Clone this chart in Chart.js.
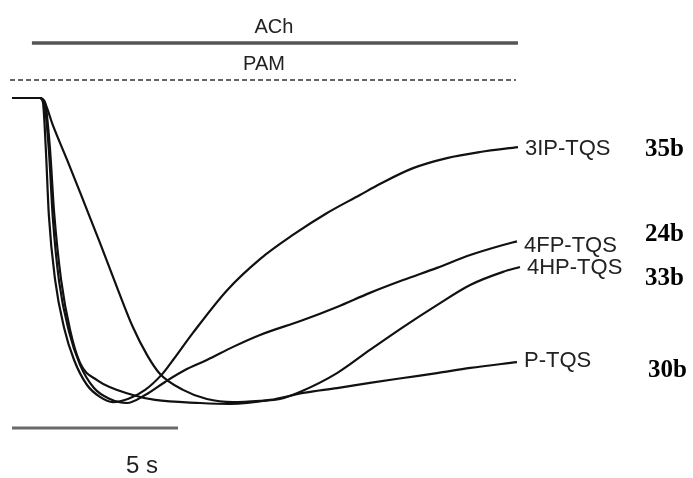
<!DOCTYPE html>
<html lang="en">
<head>
    <meta charset="UTF-8">
    <title>PAM current traces</title>
    <script src="https://cdn.jsdelivr.net/npm/chart.js"></script>
    <style>
        body, html {
            margin: 0;
            padding: 0;
            background: #fff;
        }
        #chart {
            display: block;
        }
    </style>
</head>
<body>
    <canvas id="chart" width="693" height="478"></canvas>

    <script>
        // Traces: time (s) and normalised current (fraction of peak)
        const time3IP = [0, 0.84, 0.93, 1.02, 1.11, 1.30, 1.57, 1.87, 2.26, 2.65, 3.04, 3.49, 4.01, 4.55, 4.85, 5.45, 6.48, 7.47, 8.46, 9.49, 10.48, 11.08, 12.08, 13.10, 14.10, 15.24];
        const curr3IP = [0, 0, -0.013, -0.170, -0.384, -0.597, -0.754, -0.859, -0.941, -0.980, -0.997, -0.987, -0.957, -0.902, -0.859, -0.770, -0.630, -0.528, -0.449, -0.377, -0.318, -0.282, -0.230, -0.197, -0.177, -0.161];

        const time4FP = [0, 0.84, 0.96, 1.11, 1.23, 1.42, 1.72, 2.05, 2.47, 2.95, 3.46, 4.01, 4.61, 5.21, 5.87, 6.66, 7.47, 8.77, 9.79, 10.78, 11.78, 12.80, 13.80, 14.79, 15.21];
        const curr4FP = [0, 0, -0.013, -0.170, -0.393, -0.603, -0.767, -0.875, -0.951, -0.987, -1.000, -0.974, -0.931, -0.892, -0.859, -0.816, -0.777, -0.728, -0.685, -0.639, -0.597, -0.557, -0.515, -0.482, -0.470];

        const time4HP = [0, 0.84, 0.99, 1.23, 1.66, 2.14, 2.65, 3.16, 3.64, 4.07, 4.46, 5.15, 5.87, 6.66, 7.47, 8.07, 8.67, 9.79, 10.78, 11.78, 12.80, 13.80, 14.79, 15.30];
        const curr4HP = [0, 0, -0.016, -0.089, -0.203, -0.334, -0.475, -0.620, -0.751, -0.843, -0.905, -0.957, -0.987, -0.997, -0.993, -0.987, -0.964, -0.902, -0.826, -0.751, -0.679, -0.613, -0.570, -0.554];

        const timeP = [0, 0.84, 0.99, 1.14, 1.27, 1.48, 1.75, 2.05, 2.56, 3.64, 4.31, 5.66, 6.57, 7.77, 8.77, 9.79, 10.78, 11.78, 12.80, 13.80, 15.21];
        const currP = [0, 0, -0.013, -0.161, -0.377, -0.597, -0.761, -0.869, -0.925, -0.974, -0.990, -1.000, -1.003, -0.990, -0.967, -0.951, -0.934, -0.918, -0.902, -0.885, -0.866];

        const traceNames = ['3IP-TQS', '4FP-TQS', '4HP-TQS', 'P-TQS'];
        const compoundIds = ['35b', '24b', '33b', '30b'];

        // Application bars (s) and scale bar
        const achTime = [0.60, 15.24];
        const pamTime = [-0.06, 15.18];
        const scaleBarTime = [0, 5];
        const scaleBarLabel = '5 s';

        const toPoints = (t, v) => t.map((x, i) => ({ x: x, y: v[i] }));

        const traceStyle = {
            borderColor: '#111',
            borderWidth: 2.2,
            pointRadius: 0,
            fill: false,
            cubicInterpolationMode: 'monotone'
        };

        // Draws trace names, compound ids and bar labels
        const labelPlugin = {
            id: 'labels',
            afterDatasetsDraw(chart) {
                const ctx = chart.ctx;
                const xs = chart.scales.x;
                const ys = chart.scales.y;
                ctx.save();
                ctx.textBaseline = 'middle';

                // trace names at the end of each trace
                ctx.fillStyle = '#222';
                ctx.font = '22px "Liberation Sans", Arial, sans-serif';
                ctx.textAlign = 'left';
                const nameOffsetY = [2, 5, 1, -1];
                for (let i = 0; i < 4; i++) {
                    const data = chart.data.datasets[i].data;
                    const last = data[data.length - 1];
                    ctx.fillText(traceNames[i], xs.getPixelForValue(last.x) + 7, ys.getPixelForValue(last.y) + nameOffsetY[i]);
                }

                // compound ids
                ctx.fillStyle = '#000';
                ctx.font = 'bold 25px "Liberation Serif", "Times New Roman", serif';
                const idX = [645, 645, 645, 648];
                const idY = [150, 235, 279, 371];
                compoundIds.forEach((id, i) => ctx.fillText(id, idX[i], idY[i]));

                // bar labels
                ctx.fillStyle = '#222';
                ctx.textAlign = 'center';
                ctx.font = '20px "Liberation Sans", Arial, sans-serif';
                const achY = ys.getPixelForValue(chart.data.datasets[4].data[0].y);
                ctx.fillText('ACh', xs.getPixelForValue((achTime[0] + achTime[1]) / 2) - 1, achY - 16);
                const pamY = ys.getPixelForValue(chart.data.datasets[5].data[0].y);
                ctx.fillText('PAM', xs.getPixelForValue((pamTime[0] + pamTime[1]) / 2) + 1, pamY - 16);

                ctx.font = '24px "Liberation Sans", Arial, sans-serif';
                const sbY = ys.getPixelForValue(chart.data.datasets[6].data[0].y);
                ctx.fillText(scaleBarLabel, xs.getPixelForValue(scaleBarTime[1]) - 36, sbY + 38);
                ctx.restore();
            }
        };

        new Chart(document.getElementById('chart'), {
            type: 'line',
            data: {
                datasets: [
                    { label: traceNames[0], data: toPoints(time3IP, curr3IP), ...traceStyle },
                    { label: traceNames[1], data: toPoints(time4FP, curr4FP), ...traceStyle },
                    { label: traceNames[2], data: toPoints(time4HP, curr4HP), ...traceStyle },
                    { label: traceNames[3], data: toPoints(timeP, currP), ...traceStyle },
                    {
                        label: 'ACh',
                        data: toPoints(achTime, [0.180, 0.180]),
                        borderColor: '#555',
                        borderWidth: 3.5,
                        pointRadius: 0
                    },
                    {
                        label: 'PAM',
                        data: toPoints(pamTime, [0.059, 0.059]),
                        borderColor: '#333',
                        borderWidth: 1.6,
                        borderDash: [5, 3],
                        pointRadius: 0
                    },
                    {
                        label: 'scale',
                        data: toPoints(scaleBarTime, [-1.082, -1.082]),
                        borderColor: '#6a6a6a',
                        borderWidth: 3,
                        pointRadius: 0
                    }
                ]
            },
            options: {
                responsive: false,
                animation: false,
                devicePixelRatio: 1,
                layout: { padding: 0 },
                plugins: {
                    legend: { display: false },
                    tooltip: { enabled: false }
                },
                scales: {
                    x: { type: 'linear', min: -0.3614, max: 20.512, display: false },
                    y: { type: 'linear', min: -1.2459, max: 0.3213, display: false }
                }
            },
            plugins: [labelPlugin]
        });
    </script>
</body>
</html>
